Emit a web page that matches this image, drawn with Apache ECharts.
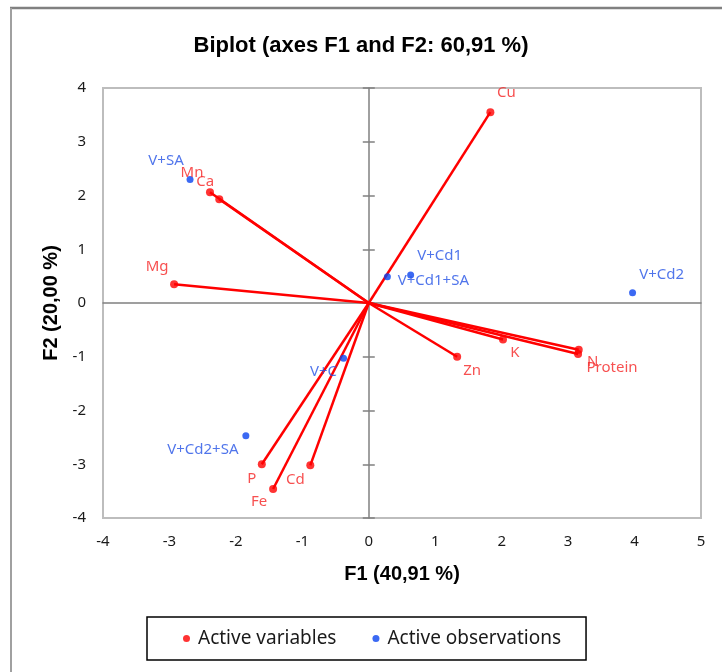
<!DOCTYPE html>
<html>
<head>
<meta charset="utf-8">
<title>Biplot</title>
<script src="https://cdn.jsdelivr.net/npm/echarts@6/dist/echarts.min.js"></script>
<style>
  html, body { margin: 0; padding: 0; background: #fff; }
  #chart { width: 722px; height: 672px; }
</style>
</head>
<body>
<div id="chart"></div>
<script>
// variables (red vectors)
const varNames = ['Cu', 'Mn', 'Ca', 'Mg', 'P', 'Fe', 'Cd', 'Zn', 'K', 'N', 'Protein'];
const varF1 = [1.83, -2.39, -2.25, -2.93, -1.61, -1.44, -0.88, 1.33, 2.02, 3.16, 3.15];
const varF2 = [3.55, 2.06, 1.93, 0.35, -3.00, -3.46, -3.02, -1.00, -0.68, -0.87, -0.95];

// observations (blue points)
const obsNames = ['V+SA', 'V+Cd1', 'V+Cd1+SA', 'V+Cd2', 'V+C', 'V+Cd2+SA'];
const obsF1 = [-2.69, 0.63, 0.28, 3.97, -0.38, -1.85];
const obsF2 = [2.30, 0.52, 0.49, 0.19, -1.03, -2.47];

// where each label sits next to its point (px)
const labelOffset = {
  'Cu': [16, -19], 'Mn': [-18, -20], 'Ca': [-14, -18], 'Mg': [-17, -17],
  'P': [-10, 14], 'Fe': [-14, 13], 'Cd': [-15, 14], 'Zn': [15, 14],
  'K': [12, 13], 'N': [14, 12], 'Protein': [34, 14],
  'V+SA': [-24, -19], 'V+Cd1': [29, -19], 'V+Cd1+SA': [46, 4],
  'V+Cd2': [29, -18], 'V+C': [-20, 13], 'V+Cd2+SA': [-43, 14]
};

const RED = '#ff0000';
const BLUE = '#0a44f0';
const labelFont = 'Noto Sans';
const boldFont = '"Liberation Sans Narrow", "Liberation Sans", Arial, sans-serif';

const toPoints = (names, xs, ys) => names.map((n, i) => ({
  name: n,
  value: [xs[i], ys[i]],
  label: { offset: labelOffset[n] || [0, 0] }
}));

const vectors = varNames.map((n, i) => ({ coords: [[0, 0], [varF1[i], varF2[i]]] }));

const myChart = echarts.init(document.getElementById('chart'));

const option = {
  animation: false,
  title: {
    text: 'Biplot (axes F1 and F2: 60,91 %)',
    left: 'center',
    top: 30,
    textStyle: { fontFamily: boldFont, fontSize: 22, fontWeight: 'bold', color: '#000' }
  },
  legend: {
    data: ['Active variables', 'Active observations'],
    left: 147,
    top: 617,
    icon: 'circle',
    itemWidth: 7,
    itemHeight: 7,
    itemGap: 36,
    padding: [12, 25, 12, 36],
    borderColor: '#000',
    borderWidth: 1.5,
    textStyle: { fontFamily: labelFont, fontSize: 19, color: '#1a1a1a', padding: [0, 0, 0, 3] }
  },
  grid: {
    left: 103, top: 88, width: 598, height: 430,
    show: true, borderColor: '#bdbdbd', borderWidth: 2, backgroundColor: '#fff'
  },
  xAxis: [
    {
      type: 'value', min: -4, max: 5, interval: 1,
      name: 'F1 (40,91 %)', nameLocation: 'middle', nameGap: 46,
      nameTextStyle: { fontFamily: boldFont, fontSize: 20, fontWeight: 'bold', color: '#000' },
      axisLine: { show: false, onZero: false },
      axisTick: { show: false },
      splitLine: { show: false },
      axisLabel: { margin: 16, fontFamily: labelFont, fontSize: 15, color: '#1a1a1a' }
    },
    {
      type: 'value', min: -4, max: 5, interval: 1,
      axisLine: { show: true, onZero: true, lineStyle: { color: '#808080', width: 1.5 } },
      axisTick: { show: false },
      axisLabel: { show: false },
      splitLine: { show: false }
    }
  ],
  yAxis: [
    {
      type: 'value', min: -4, max: 4, interval: 1,
      name: 'F2 (20,00 %)', nameLocation: 'middle', nameGap: 37,
      nameTextStyle: { fontFamily: boldFont, fontSize: 20, fontWeight: 'bold', color: '#000' },
      axisLine: { show: false, onZero: false },
      axisTick: { show: false },
      splitLine: { show: false },
      axisLabel: { margin: 17, fontFamily: labelFont, fontSize: 15, color: '#1a1a1a' }
    },
    {
      type: 'value', min: -4, max: 4, interval: 1, position: 'left',
      axisLine: { show: true, onZero: true, onZeroAxisIndex: 0, lineStyle: { color: '#808080', width: 1.5 } },
      axisTick: { show: true, length: 6, lineStyle: { color: '#808080', width: 1.5 } },
      axisLabel: { show: false },
      splitLine: { show: false }
    },
    {
      type: 'value', min: -4, max: 4, interval: 1, position: 'left',
      axisLine: { show: false, onZero: true, onZeroAxisIndex: 0 },
      axisTick: { show: true, inside: true, length: 6, lineStyle: { color: '#808080', width: 1.5 } },
      axisLabel: { show: false },
      splitLine: { show: false }
    }
  ],
  series: [
    {
      name: 'vectors',
      type: 'lines',
      coordinateSystem: 'cartesian2d',
      xAxisIndex: 0, yAxisIndex: 0,
      lineStyle: { color: RED, width: 2.5, opacity: 1 },
      data: vectors,
      z: 3
    },
    {
      name: 'Active variables',
      type: 'scatter',
      xAxisIndex: 0, yAxisIndex: 0,
      symbolSize: 8,
      itemStyle: { color: RED },
      label: {
        show: true, position: 'inside', formatter: '{b}',
        fontFamily: labelFont, fontSize: 15, color: '#f52424'
      },
      data: toPoints(varNames, varF1, varF2),
      z: 4
    },
    {
      name: 'Active observations',
      type: 'scatter',
      xAxisIndex: 0, yAxisIndex: 0,
      symbolSize: 7,
      itemStyle: { color: BLUE },
      label: {
        show: true, position: 'inside', formatter: '{b}',
        fontFamily: labelFont, fontSize: 15, color: '#2452e6'
      },
      data: toPoints(obsNames, obsF1, obsF2),
      z: 4
    }
  ],
  graphic: [
    { type: 'line', shape: { x1: 10, y1: 8, x2: 722, y2: 8 }, style: { stroke: '#808080', lineWidth: 2.5 } },
    { type: 'line', shape: { x1: 11, y1: 8, x2: 11, y2: 672 }, style: { stroke: '#a0a0a0', lineWidth: 2 } }
  ]
};

myChart.setOption(option);
</script>
</body>
</html>
